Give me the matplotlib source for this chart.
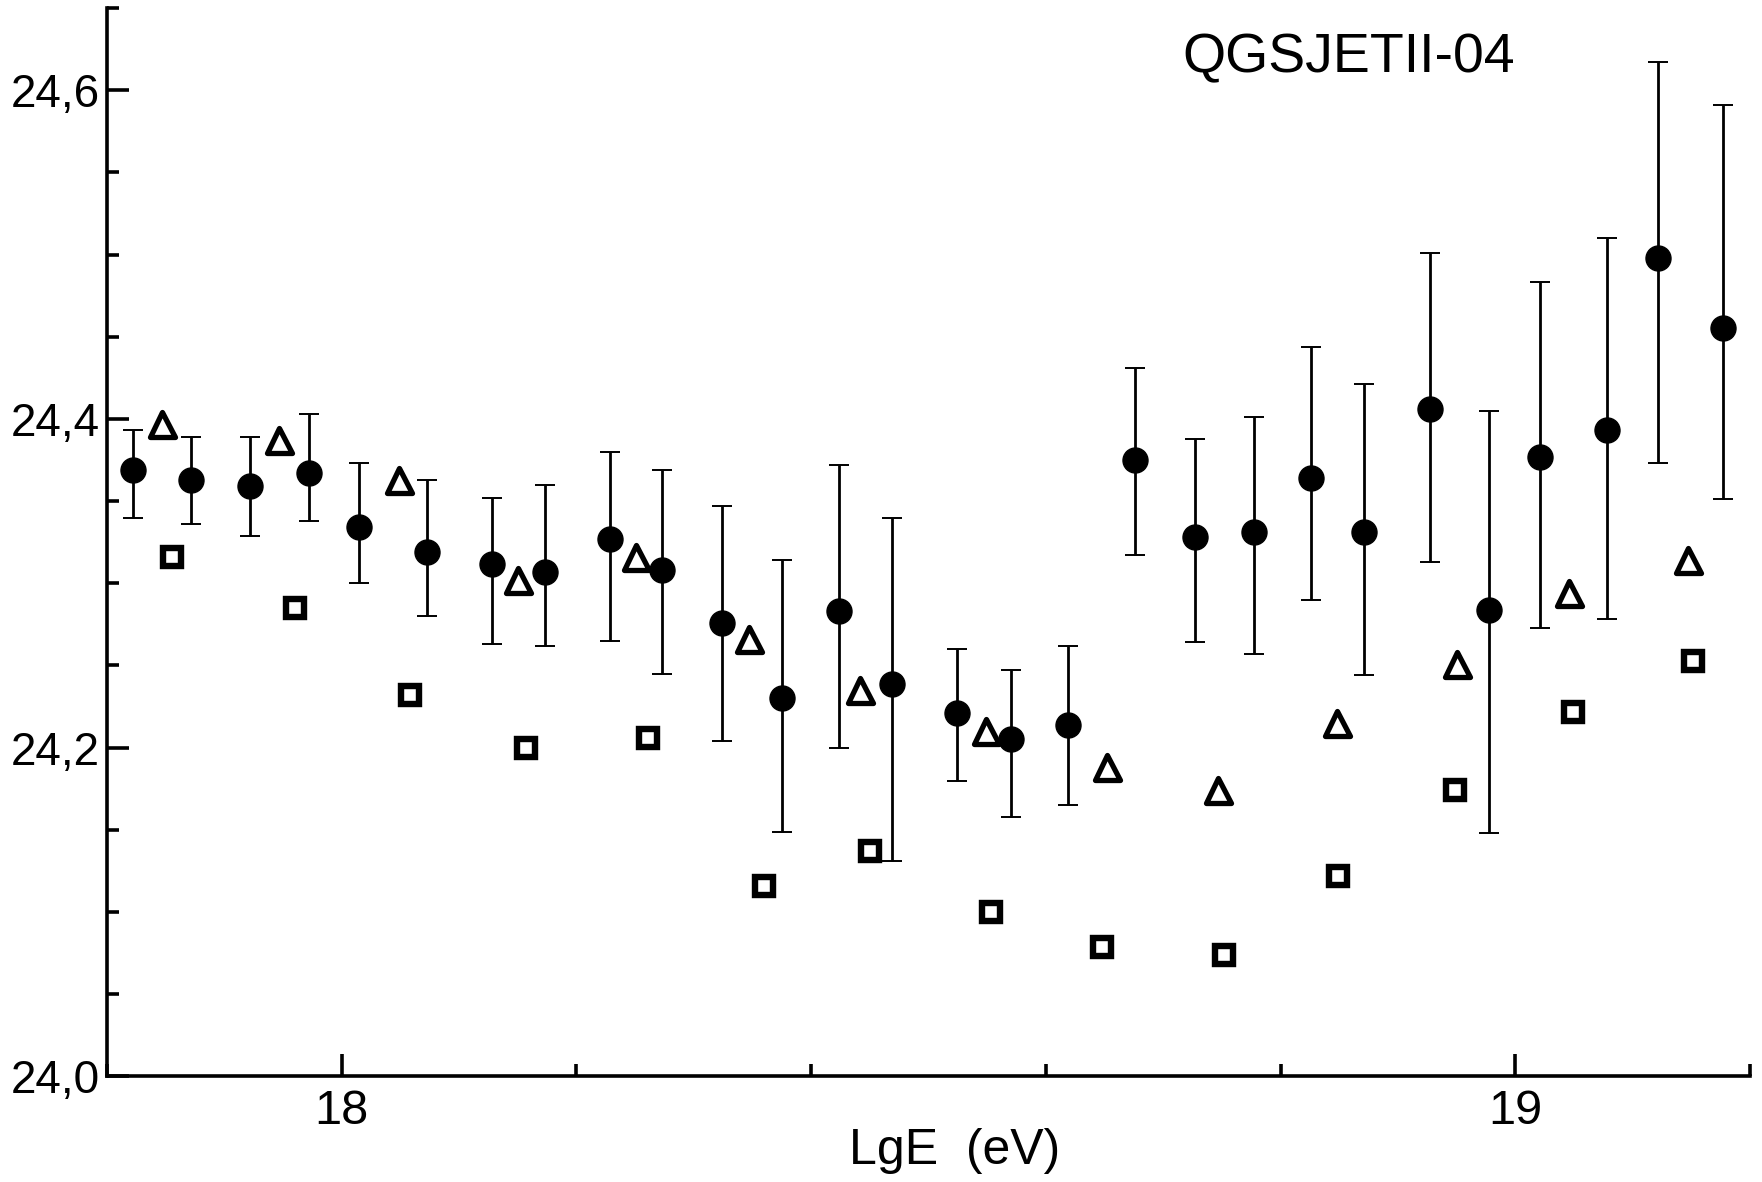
# Xmax vs LgE with QGSJETII-04 predictions

import matplotlib.pyplot as plt
from matplotlib.markers import MarkerStyle
from matplotlib.ticker import MultipleLocator

plt.rcParams["font.family"] = ["Liberation Sans", "DejaVu Sans"]

# Measured points (filled circles) with error bar ends
lge_data = [17.822, 17.872, 17.922, 17.972, 18.015, 18.073, 18.128, 18.173,
            18.229, 18.273, 18.324, 18.375, 18.424, 18.469, 18.524, 18.570,
            18.619, 18.676, 18.727, 18.777, 18.826, 18.871, 18.927, 18.978,
            19.021, 19.078, 19.122, 19.177]
val_data = [24.369, 24.363, 24.359, 24.367, 24.334, 24.319, 24.312, 24.307,
            24.327, 24.308, 24.276, 24.230, 24.283, 24.239, 24.221, 24.205,
            24.214, 24.375, 24.328, 24.331, 24.364, 24.331, 24.406, 24.284,
            24.377, 24.393, 24.498, 24.455]
err_top = [24.393, 24.389, 24.389, 24.403, 24.373, 24.363, 24.352, 24.360,
           24.380, 24.369, 24.347, 24.314, 24.372, 24.340, 24.260, 24.247,
           24.262, 24.431, 24.388, 24.401, 24.444, 24.421, 24.501, 24.405,
           24.483, 24.510, 24.617, 24.591]
err_bot = [24.340, 24.336, 24.329, 24.338, 24.300, 24.280, 24.263, 24.262,
           24.265, 24.245, 24.204, 24.149, 24.200, 24.131, 24.180, 24.158,
           24.165, 24.317, 24.264, 24.257, 24.290, 24.244, 24.313, 24.148,
           24.273, 24.278, 24.373, 24.351]

# Model curves (open triangles, open squares)
lge_tri = [17.847, 17.947, 18.049, 18.150, 18.251, 18.347, 18.442, 18.549,
           18.652, 18.747, 18.848, 18.950, 19.046, 19.147]
val_tri = [24.397, 24.387, 24.363, 24.302, 24.316, 24.266, 24.235, 24.210,
           24.188, 24.174, 24.215, 24.251, 24.294, 24.314]
lge_sq = [17.855, 17.960, 18.058, 18.157, 18.261, 18.360, 18.450, 18.553,
          18.648, 18.752, 18.849, 18.949, 19.049, 19.151]
val_sq = [24.316, 24.285, 24.232, 24.200, 24.206, 24.116, 24.137, 24.100,
          24.079, 24.074, 24.122, 24.174, 24.222, 24.253]

yticks_values = [24.0, 24.2, 24.4, 24.6]
yticks_labels = ["24,0", "24,2", "24,4", "24,6"]
xticks_values = [18, 19]
xticks_labels = ["18", "19"]

fig = plt.figure(figsize=(17.62, 11.82), dpi=100)
ax = fig.add_axes([0.0607, 0.0893, 0.9325, 0.904])

yerr = [[v - b for v, b in zip(val_data, err_bot)],
        [t - v for v, t in zip(val_data, err_top)]]
ax.errorbar(lge_data, val_data, yerr=yerr, fmt="o", color="black",
            markersize=18, elinewidth=2.0, capsize=7.5, capthick=1.4, zorder=3)

ax.plot(lge_tri, val_tri, linestyle="none",
        marker=MarkerStyle("^", joinstyle="round"), markersize=18,
        markerfacecolor="white", markeredgecolor="black", markeredgewidth=3.8)
ax.plot(lge_sq, val_sq, linestyle="none", marker="s", markersize=13,
        markerfacecolor="white", markeredgecolor="black", markeredgewidth=4.6)

ax.set_xlim(17.8, 19.2)
ax.set_ylim(24.0, 24.65)
ax.set_xticks(xticks_values)
ax.set_xticklabels(xticks_labels)
ax.set_yticks(yticks_values)
ax.set_yticklabels(yticks_labels)
ax.xaxis.set_minor_locator(MultipleLocator(0.2))
ax.yaxis.set_minor_locator(MultipleLocator(0.05))

for side in ["top", "right"]:
    ax.spines[side].set_visible(False)
for side in ["left", "bottom"]:
    ax.spines[side].set_linewidth(2.6)

ax.tick_params(which="major", direction="in", length=15.6, width=2.6, pad=5)
ax.tick_params(which="minor", direction="in", length=8.4, width=2.6)
ax.tick_params(axis="x", which="major", pad=9, labelsize=35)
ax.tick_params(axis="y", which="major", labelsize=33)

fig.text(0.671, 0.939, "QGSJETII-04", fontsize=40, ha="left", va="baseline")
fig.text(0.542, 0.007, "LgE  (eV)", fontsize=36, ha="center", va="bottom")

fig.savefig("out.png", dpi=100)
